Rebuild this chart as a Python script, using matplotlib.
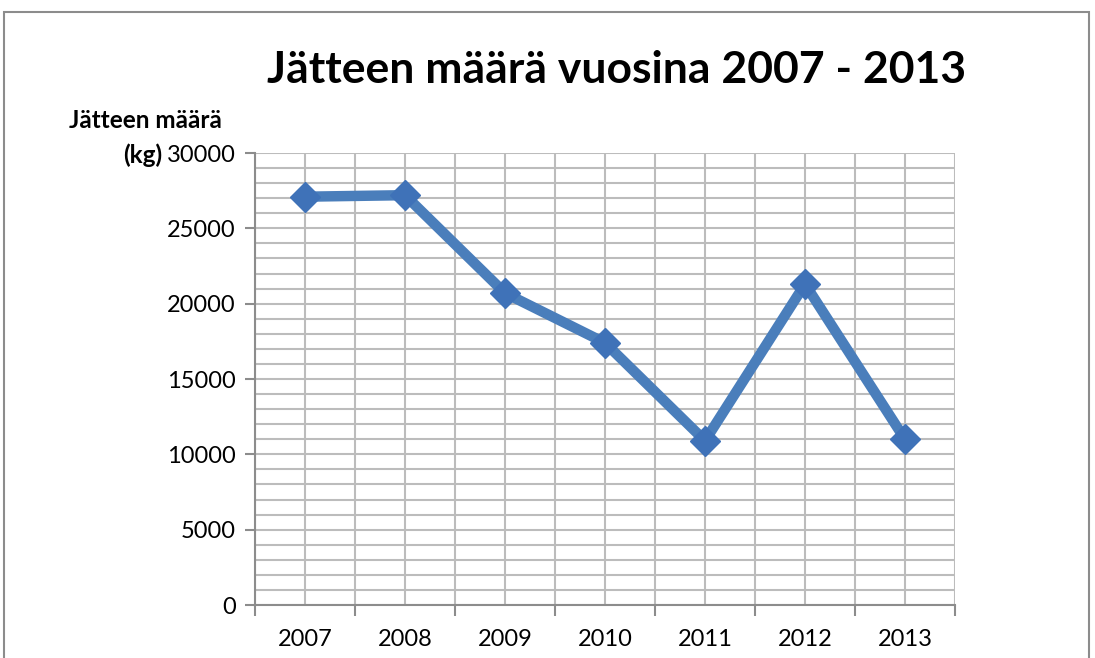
import numpy as np
import matplotlib
matplotlib.use("Agg")
import matplotlib.pyplot as plt
from matplotlib.patches import Rectangle
from matplotlib.ticker import MultipleLocator, FixedLocator

years = ["2007", "2008", "2009", "2010", "2011", "2012", "2013"]
waste_kg = [27100, 27200, 20700, 17400, 10900, 21300, 11000]
y_ticks = [0, 5000, 10000, 15000, 20000, 25000, 30000]

plt.rcParams['font.family'] = ['Lato', 'DejaVu Sans']

fig = plt.figure(figsize=(10.95, 6.58), dpi=100)
ax = fig.add_axes([255 / 1095, 1 - 605 / 658, 700 / 1095, 452 / 658])

# outer chart border
fig.patches.append(Rectangle((4 / 1095, -0.01), 1085 / 1095, 1 - 12 / 658 + 0.01,
                             transform=fig.transFigure, fill=False,
                             edgecolor='#8c8c8c', linewidth=1.5))

x = np.arange(len(years))
ax.set_xlim(-0.5, len(years) - 0.5)
ax.set_ylim(0, 30000)

grid_col = '#bcbcbc'
ax.yaxis.set_major_locator(FixedLocator(y_ticks))
ax.yaxis.set_minor_locator(MultipleLocator(1000))
ax.xaxis.set_major_locator(FixedLocator(np.arange(-0.5, len(years), 1.0)))
ax.xaxis.set_minor_locator(FixedLocator(x))
ax.grid(True, which='both', axis='both', color=grid_col, linewidth=1.5)
ax.set_axisbelow(True)

ax.plot(x, waste_kg, color='#4a7ebb', linewidth=7.5, marker='D', markersize=15,
        markerfacecolor='#3f72b8', markeredgecolor='#3f72b8', solid_joinstyle='miter',
        zorder=3)

ax.set_yticks(y_ticks)
ax.set_yticklabels([str(v) for v in y_ticks], fontsize=17)
ax.set_xticks(np.arange(-0.5, len(years), 1.0))
ax.set_xticklabels([])
ax.set_xticks(x, minor=True)
ax.set_xticklabels(years, minor=True, fontsize=17)

ax.tick_params(axis='y', which='major', length=7, width=1.5, color='#8c8c8c', pad=7)
ax.tick_params(axis='y', which='minor', length=0)
ax.tick_params(axis='x', which='major', length=8, width=1.5, color='#8c8c8c')
ax.tick_params(axis='x', which='minor', length=0, pad=17)

for side in ['top', 'right']:
    ax.spines[side].set_visible(False)
for side in ['left', 'bottom']:
    ax.spines[side].set_color('#8c8c8c')
    ax.spines[side].set_linewidth(1.5)

fig.text(617 / 1095, 1 - 70 / 658, "Jätteen määrä vuosina 2007 - 2013",
         ha='center', va='center', fontsize=32, fontweight='bold')
fig.text(222 / 1095, 1 - 120 / 658, "Jätteen määrä", ha='right', va='center',
         fontsize=17.5, fontweight='bold')
fig.text(162 / 1095, 1 - 155 / 658, "(kg)", ha='right', va='center',
         fontsize=17.5, fontweight='bold')

fig.savefig("out.png", dpi=100)
